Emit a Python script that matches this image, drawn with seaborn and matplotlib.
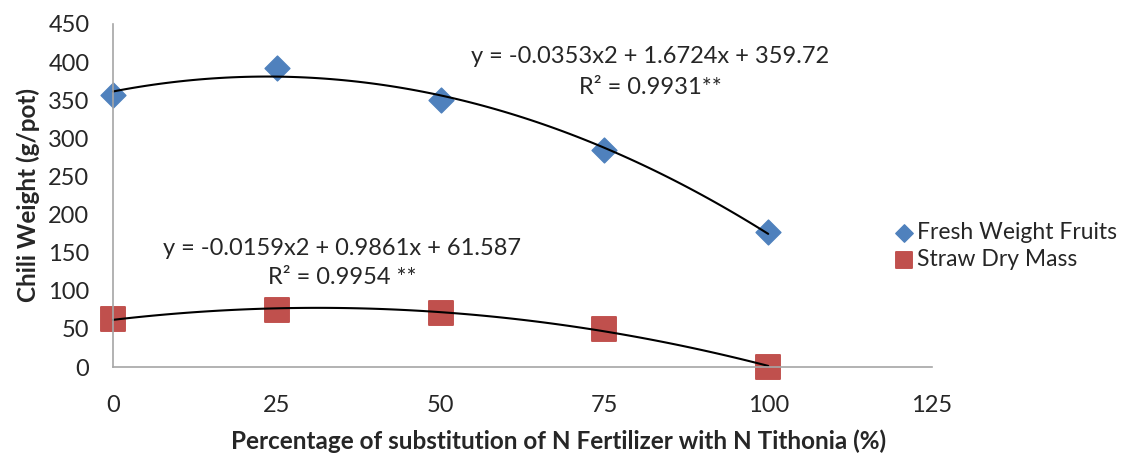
import numpy as np
import pandas as pd
import matplotlib
matplotlib.use("Agg")
import matplotlib.pyplot as plt
import seaborn as sns

# data
substitution = [0, 25, 50, 75, 100]
fresh_weight = [357, 392, 350, 285, 177]
straw_dry = [63, 75, 71, 50, 0]

eq_fresh = "y = -0.0353x2 + 1.6724x + 359.72"
r2_fresh = "R² = 0.9931**"
eq_straw = "y = -0.0159x2 + 0.9861x + 61.587"
r2_straw = "R² = 0.9954 **"

x_ticks = [0, 25, 50, 75, 100, 125]
y_ticks = [0, 50, 100, 150, 200, 250, 300, 350, 400, 450]

sns.set_style("white")
plt.rcParams['font.family'] = ['Lato', 'DejaVu Sans']

df = pd.DataFrame({'x': substitution, 'fresh': fresh_weight, 'straw': straw_dry})

fig = plt.figure(figsize=(11.29, 4.54), dpi=100)
ax = fig.add_axes([113 / 1129, 1 - 367 / 454, (932 - 113) / 1129, (367 - 24) / 454])

# polynomial trend lines (order 2)
sns.regplot(data=df, x='x', y='fresh', order=2, ci=None, scatter=False,
            line_kws={'color': 'black', 'lw': 1.5}, ax=ax)
sns.regplot(data=df, x='x', y='straw', order=2, ci=None, scatter=False,
            line_kws={'color': 'black', 'lw': 1.5}, ax=ax)

sns.scatterplot(data=df, x='x', y='fresh', marker='D', s=160, color='#4F81BD',
                edgecolor='#4F81BD', label='Fresh Weight Fruits', ax=ax, zorder=1)
sns.scatterplot(data=df, x='x', y='straw', marker='s', s=300, color='#C0504D',
                edgecolor='#C0504D', label='Straw Dry Mass', ax=ax, zorder=1)

ax.set_xlim(0, 125)
ax.set_ylim(0, 450)
ax.set_xticks(x_ticks)
ax.set_yticks(y_ticks)
ax.tick_params(axis='both', length=0, labelsize=17)
ax.tick_params(axis='x', pad=20)
ax.tick_params(axis='y', pad=17)
for c in ax.collections + ax.lines:
    c.set_clip_on(False)

for side in ['top', 'right']:
    ax.spines[side].set_visible(False)
for side in ['left', 'bottom']:
    ax.spines[side].set_color('#A6A6A6')
    ax.spines[side].set_linewidth(1.2)

ax.set_xlabel('Percentage of substitution of N Fertilizer with N Tithonia (%)',
              fontsize=17.5, fontweight='bold', labelpad=10)
ax.xaxis.label.set_x((559 - 113) / 819)
ax.set_ylabel('Chili Weight (g/pot)', fontsize=17.5, fontweight='bold', labelpad=6)

ax.text(82, 407, eq_fresh, ha='center', va='center', fontsize=17)
ax.text(82, 367, r2_fresh, ha='center', va='center', fontsize=17)
ax.text(35, 156, eq_straw, ha='center', va='center', fontsize=17)
ax.text(35, 117, r2_straw, ha='center', va='center', fontsize=17)

handles, labels = ax.get_legend_handles_labels()
ax.get_legend().remove()
fig.legend(handles, labels, loc='upper left', bbox_to_anchor=(893 / 1129, 1 - 222 / 454),
           frameon=False, fontsize=16.5, handletextpad=0.05, labelspacing=0.25,
           markerscale=0.7, handlelength=1.0, borderaxespad=0, borderpad=0)

fig.savefig('out.png', dpi=100)
